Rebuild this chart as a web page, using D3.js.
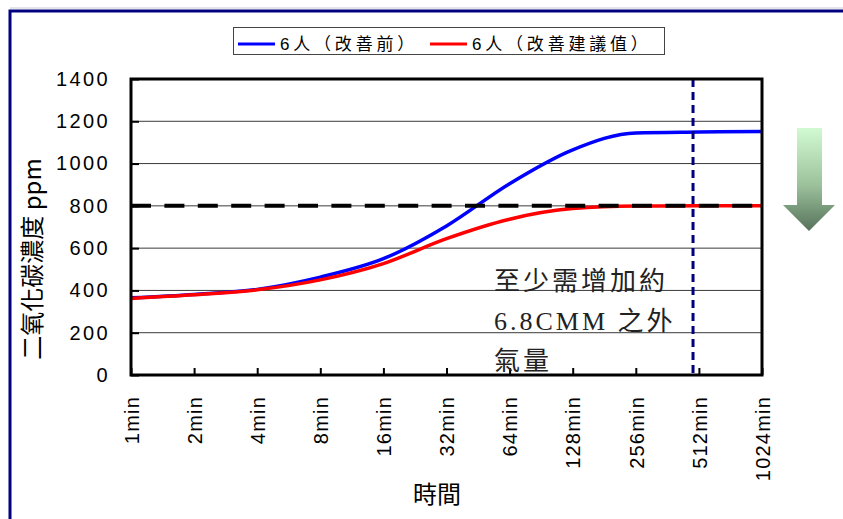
<!DOCTYPE html>
<html>
<head>
<meta charset="utf-8">
<script src="https://cdn.jsdelivr.net/npm/d3@7/dist/d3.min.js"></script>
<style>
  html, body { margin: 0; padding: 0; background: #fff; }
  svg { display: block; }
</style>
</head>
<body>
<svg id="chart" width="843" height="519"></svg>
<script>
// Elapsed time categories (doubling minutes) and their axis labels
const minutes = [1, 2, 4, 8, 16, 32, 64, 128, 256, 512, 1024];
const timeLabels = ["1min", "2min", "4min", "8min", "16min", "32min", "64min", "128min", "256min", "512min", "1024min"];

// CO2 concentration (ppm) for 6 occupants
const seriesNames = ["6人（改善前）", "6人（改善建議值）"];
const beforeValues = [365, 381, 405, 463, 550, 705, 905, 1065, 1145, 1149, 1152];
const afterValues  = [362, 379, 403, 450, 527, 645, 737, 787, 799, 800, 800];

// Value axis ticks, the 800 ppm limit and the 8-hour marker
const yTicks = [0, 200, 400, 600, 800, 1000, 1200, 1400];
const limitPpm = 800;
const markerMinutes = 480;

const noteLines = ["至少需增加約", "6.8CMM 之外", "氣量"];

const svg = d3.select("#chart");
const plotLeft = 131, plotRight = 762, plotTop = 79, plotBottom = 375;

const x = d3.scaleLog().base(2).domain([1, 1024]).range([plotLeft, plotRight]);
const y = d3.scaleLinear().domain([0, 1400]).range([plotBottom, plotTop]);

// outer frame
svg.append("line").attr("x1", 10).attr("x2", 843).attr("y1", 8).attr("y2", 8)
  .attr("stroke", "#c8c8d8").attr("stroke-width", 1);
svg.append("path").attr("d", "M10,519 V11 H843")
  .attr("fill", "none").attr("stroke", "#000080").attr("stroke-width", 3);

// horizontal gridlines
svg.append("g").selectAll("line").data(yTicks.filter(d => d > 0 && d < 1400)).join("line")
  .attr("x1", plotLeft).attr("x2", plotRight)
  .attr("y1", d => y(d)).attr("y2", d => y(d))
  .attr("stroke", "#3a3a3a").attr("stroke-width", 1);

// y axis
const yAxis = svg.append("g").attr("transform", `translate(${plotLeft},0)`)
  .call(d3.axisLeft(y).tickValues(yTicks).tickFormat(d3.format("d")).tickSize(-8).tickPadding(21));
yAxis.select(".domain").remove();
yAxis.selectAll(".tick line").attr("stroke", "#000").attr("stroke-width", 2);
yAxis.selectAll(".tick text")
  .attr("font-family", "'Liberation Sans', Arial, sans-serif")
  .attr("font-size", 20).attr("letter-spacing", "2.4px").attr("fill", "#000");

// x axis
const xAxis = svg.append("g").attr("transform", `translate(0,${plotBottom})`)
  .call(d3.axisBottom(x).tickValues(minutes).tickFormat((d, i) => timeLabels[i]).tickSize(-7));
xAxis.select(".domain").remove();
xAxis.selectAll(".tick line").attr("stroke", "#000").attr("stroke-width", 2);
xAxis.selectAll(".tick text")
  .attr("font-family", "'Liberation Sans', Arial, sans-serif")
  .attr("font-size", 20).attr("letter-spacing", "1.2px").attr("fill", "#000")
  .attr("transform", "rotate(-90)")
  .attr("text-anchor", "end")
  .attr("x", -21).attr("y", 0).attr("dy", "0.36em");

// series lines
const line = d3.line()
  .x(d => x(d[0])).y(d => y(d[1]))
  .curve(d3.curveMonotoneX);

svg.append("path").datum(minutes.map((m, i) => [m, beforeValues[i]]))
  .attr("d", line).attr("fill", "none").attr("stroke", "#0000ff").attr("stroke-width", 3.5);
svg.append("path").datum(minutes.map((m, i) => [m, afterValues[i]]))
  .attr("d", line).attr("fill", "none").attr("stroke", "#ff0000").attr("stroke-width", 3.5);

// 800 ppm limit
svg.append("line")
  .attr("x1", plotLeft).attr("x2", plotRight).attr("y1", y(limitPpm)).attr("y2", y(limitPpm))
  .attr("stroke", "#000").attr("stroke-width", 4).attr("stroke-dasharray", "20,13.4");

// 8-hour marker
svg.append("line")
  .attr("x1", x(markerMinutes)).attr("x2", x(markerMinutes)).attr("y1", plotTop).attr("y2", plotBottom)
  .attr("stroke", "#000080").attr("stroke-width", 3).attr("stroke-dasharray", "8,5");

// plot frame
svg.append("rect").attr("x", plotLeft).attr("y", plotTop)
  .attr("width", plotRight - plotLeft).attr("height", plotBottom - plotTop)
  .attr("fill", "none").attr("stroke", "#000").attr("stroke-width", 3);

// note text
svg.append("g").selectAll("text").data(noteLines).join("text")
  .attr("x", 494).attr("y", (d, i) => 290 + i * 40)
  .attr("font-family", "'Liberation Serif', 'Noto Sans CJK TC', serif")
  .attr("font-size", 26).attr("letter-spacing", "3px").attr("fill", "#222")
  .text(d => d);

// axis titles
svg.append("text")
  .attr("transform", "translate(41,259) rotate(-90)")
  .attr("text-anchor", "middle")
  .attr("font-family", "'Noto Sans CJK TC', 'Liberation Sans', sans-serif")
  .attr("font-size", 24).attr("fill", "#000")
  .text("二氧化碳濃度 ppm");
svg.append("text")
  .attr("x", 437).attr("y", 503)
  .attr("text-anchor", "middle")
  .attr("font-family", "'Noto Sans CJK TC', sans-serif")
  .attr("font-size", 24).attr("fill", "#000")
  .text("時間");

// legend
const legend = svg.append("g");
legend.append("rect").attr("x", 233.5).attr("y", 27.5).attr("width", 431).attr("height", 27)
  .attr("fill", "#fff").attr("stroke", "#444").attr("stroke-width", 1);
const legendItems = [
  { name: seriesNames[0], color: "#0000ff", x0: 238 },
  { name: seriesNames[1], color: "#ff0000", x0: 430 }
];
legendItems.forEach(it => {
  legend.append("line").attr("x1", it.x0).attr("x2", it.x0 + 37).attr("y1", 44).attr("y2", 44)
    .attr("stroke", it.color).attr("stroke-width", 3);
  legend.append("text").attr("x", it.x0 + 42).attr("y", 50)
    .attr("font-family", "'Liberation Sans', 'Noto Sans CJK TC', sans-serif")
    .attr("font-size", 17).attr("letter-spacing", "3.8px").attr("fill", "#000")
    .text(it.name);
});

// green down arrow
const defs = svg.append("defs");
const grad = defs.append("linearGradient").attr("id", "arrowFill")
  .attr("x1", 0).attr("y1", 0).attr("x2", 0).attr("y2", 1);
grad.append("stop").attr("offset", "0%").attr("stop-color", "#d2fad2");
grad.append("stop").attr("offset", "55%").attr("stop-color", "#9cc29c");
grad.append("stop").attr("offset", "100%").attr("stop-color", "#56725a");
svg.append("path")
  .attr("d", "M797,128 H822 V205 H835 L809,231 L783,205 H797 Z")
  .attr("fill", "url(#arrowFill)");
</script>
</body>
</html>
